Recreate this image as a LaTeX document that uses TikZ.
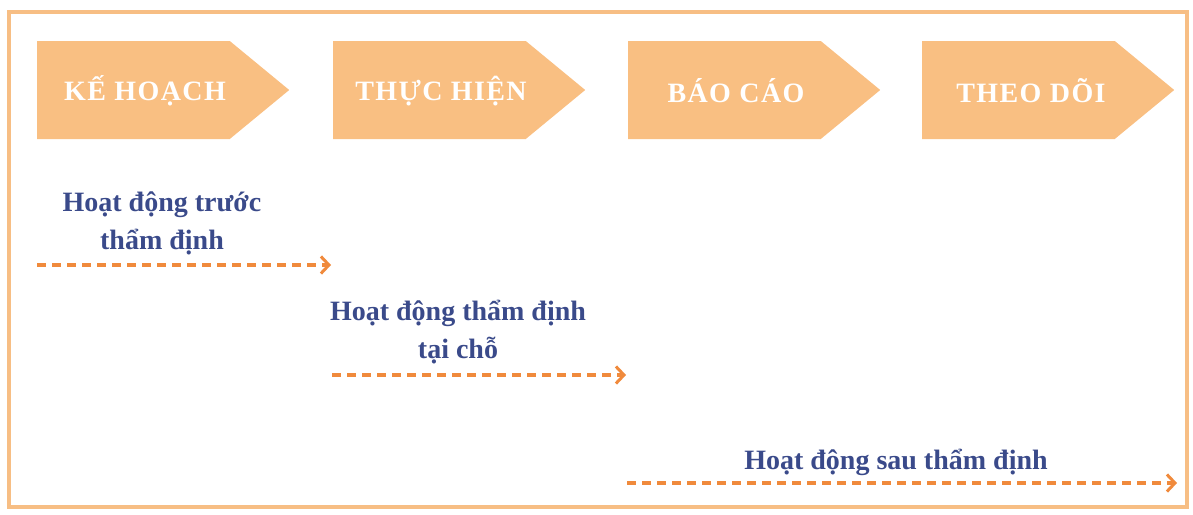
\documentclass[tikz,border=0pt]{standalone}
\usepackage{fontspec}
\setmainfont{Liberation Serif}
\usetikzlibrary{shapes.symbols,arrows.meta}

\definecolor{stagefill}{HTML}{F9BF82}
\definecolor{framecol}{HTML}{F7BE84}
\definecolor{floworange}{HTML}{F08A3C}
\definecolor{phaseblue}{HTML}{3A4A8A}

\tikzset{
    stage/.style={signal, signal to=east, signal pointer angle=79, fill=stagefill,
        minimum width=252pt, minimum height=98pt, inner sep=0pt, anchor=west},
    stagetext/.style={text=white, font=\bfseries\fontsize{28}{28}\selectfont\addfontfeature{LetterSpace=5}},
    phase/.style={text=phaseblue, align=center, font=\bfseries\fontsize{28}{38}\selectfont},
    flow/.style={draw=floworange, line width=3.2pt, dash pattern=on 9pt off 6pt,
        -{Straight Barb[length=8pt, width=17pt, line width=3pt]}}
}

\begin{document}
\begin{tikzpicture}[x=1pt, y=-1pt]
    \useasboundingbox (0,0) rectangle (1193,514);
    \draw[framecol, line width=4.5pt] (9,12) rectangle (1187,507);

    % stages
    \node[stage] (plan) at (37, 90) {};
    \node[stage] (exec) at (333, 90) {};
    \node[stage] (report) at (628, 90) {};
    \node[stage] (follow) at (922, 90) {};
    \node[stagetext] (plantext) at (145, 91) {KẾ HOẠCH};
    \node[stagetext] (exectext) at (441, 91) {THỰC HIỆN};
    \node[stagetext] (reporttext) at (736, 91) {BÁO CÁO};
    \node[stagetext] (followtext) at (1031, 91) {THEO DÕI};

    % phases
    \node[phase, anchor=base] (pre) at (162, 249) {Hoạt động trước\\thẩm định};
    \node[phase, anchor=base] (onsite) at (458, 358) {Hoạt động thẩm định\\tại chỗ};
    \node[phase, anchor=base] (post) at (896, 469) {Hoạt động sau thẩm định};

    \coordinate (pre-a) at (37, 265);
    \coordinate (pre-b) at (331, 265);
    \coordinate (onsite-a) at (332, 375);
    \coordinate (onsite-b) at (626, 375);
    \coordinate (post-a) at (627, 483);
    \coordinate (post-b) at (1177, 483);
    \draw[flow] (pre-a) -- (pre-b);
    \draw[flow] (onsite-a) -- (onsite-b);
    \draw[flow] (post-a) -- (post-b);
\end{tikzpicture}
\end{document}
